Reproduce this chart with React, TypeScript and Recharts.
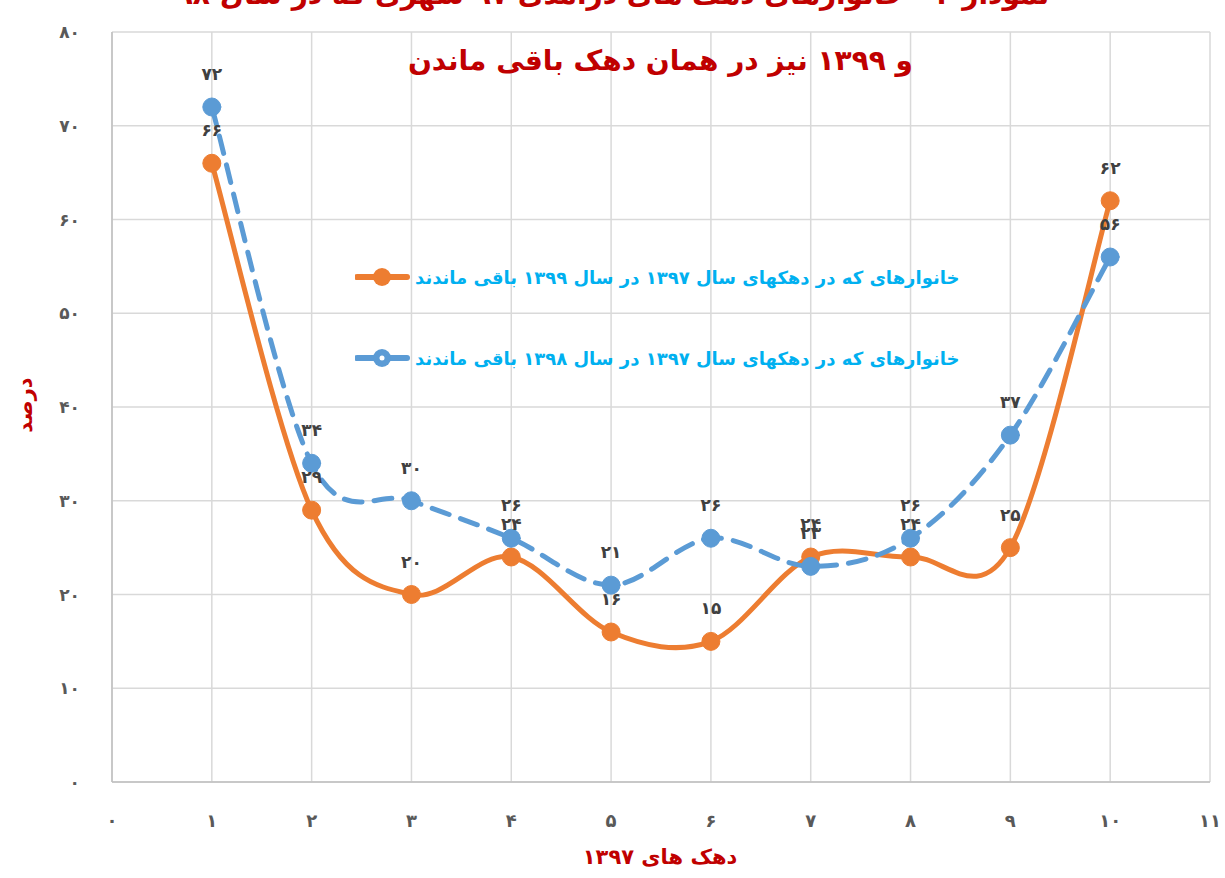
import React from "react";
import { LineChart, Line, XAxis, YAxis, CartesianGrid, LabelList } from "recharts";

const deciles = [1, 2, 3, 4, 5, 6, 7, 8, 9, 10];
const stayed1399 = [66, 29, 20, 24, 16, 15, 24, 24, 25, 62];
const stayed1398 = [72, 34, 30, 26, 21, 26, 23, 26, 37, 56];
const xTicks = [0, 1, 2, 3, 4, 5, 6, 7, 8, 9, 10, 11];
const yTicks = [0, 10, 20, 30, 40, 50, 60, 70, 80];

const name1399 = "خانوارهای که در دهکهای سال ۱۳۹۷ در سال ۱۳۹۹ باقی ماندند";
const name1398 = "خانوارهای که در دهکهای سال ۱۳۹۷ در سال ۱۳۹۸ باقی ماندند";
const titleLine1 = "نمودار ۲ - خانوارهای دهک های درآمدی ۹۷ شهری که در سال ۹۸";
const titleLine2 = "و ۱۳۹۹ نیز در همان دهک باقی ماندن";
const xTitle = "دهک های ۱۳۹۷";
const yTitle = "درصد";

const data = deciles.map((d, i) => ({ d, a: stayed1399[i], b: stayed1398[i] }));

const fa = (v: any) => String(v).replace(/[0-9]/g, (c) => "۰۱۲۳۴۵۶۷۸۹"[+c]);

const ORANGE = "#ED7D31";
const BLUE = "#5B9BD5";
const RED = "#C00000";
const FONT = "'DejaVu Sans', sans-serif";

function smooth(context: any) {
  let pts: number[][] = [];
  return {
    areaStart() {},
    areaEnd() {},
    lineStart() {
      pts = [];
    },
    point(x: number, y: number) {
      pts.push([+x, +y]);
    },
    lineEnd() {
      if (!pts.length) return;
      context.moveTo(pts[0][0], pts[0][1]);
      for (let i = 0; i < pts.length - 1; i++) {
        const p0 = pts[i - 1] || pts[i];
        const p1 = pts[i];
        const p2 = pts[i + 1];
        const p3 = pts[i + 2] || p2;
        context.bezierCurveTo(
          p1[0] + (p2[0] - p0[0]) / 6,
          p1[1] + (p2[1] - p0[1]) / 6,
          p2[0] - (p3[0] - p1[0]) / 6,
          p2[1] - (p3[1] - p1[1]) / 6,
          p2[0],
          p2[1]
        );
      }
    },
  };
}

const LegendRow = ({ color, hollow, label, top }: any) => (
  <div style={{ position: "absolute", left: 355, top: top - 16, height: 32, display: "flex", alignItems: "center" }}>
    <svg width={56} height={32}>
      <line x1={2} y1={16} x2={52} y2={16} stroke={color} strokeWidth={6} strokeLinecap="round" />
      <circle cx={27} cy={16} r={9} fill={color} />
      {hollow && <circle cx={27} cy={16} r={2.5} fill="#fff" />}
    </svg>
    <span dir="rtl" style={{ marginLeft: 4, color: "#00B0F0", fontWeight: "bold", fontSize: 18, fontFamily: FONT, whiteSpace: "nowrap" }}>
      {label}
    </span>
  </div>
);

export default function App() {
  return (
    <div style={{ position: "absolute", left: 0, top: 0, width: 1225, height: 878, background: "#fff", overflow: "hidden" }}>
      <LineChart width={1225} height={878} data={data} margin={{ top: 32, right: 15, bottom: 0, left: 0 }}>
        <CartesianGrid stroke="#D9D9D9" strokeWidth={1.5} />
        <XAxis
          dataKey="d"
          type="number"
          domain={[0, 11]}
          ticks={xTicks}
          interval={0}
          height={96}
          tickSize={0}
          tickMargin={32}
          tickFormatter={fa}
          tick={{ fill: "#595959", fontSize: 18, fontWeight: "bold", fontFamily: FONT }}
          stroke="#BFBFBF"
          strokeWidth={1.5}
        />
        <YAxis
          type="number"
          domain={[0, 80]}
          ticks={yTicks}
          interval={0}
          width={112}
          tickSize={0}
          tickMargin={32}
          tickFormatter={fa}
          tick={{ fill: "#595959", fontSize: 17, fontWeight: "bold", fontFamily: FONT }}
          stroke="#BFBFBF"
          strokeWidth={1.5}
        />
        <Line
          dataKey="a"
          name={name1399}
          type={smooth as any}
          stroke={ORANGE}
          strokeWidth={5}
          dot={{ r: 9, fill: ORANGE, stroke: ORANGE, strokeWidth: 1 }}
          activeDot={false}
          isAnimationActive={false}
        >
          <LabelList dataKey="a" position="top" offset={27} formatter={fa} fill="#404040" fontSize={17} fontWeight="bold" fontFamily={FONT} />
        </Line>
        <Line
          dataKey="b"
          name={name1398}
          type={smooth as any}
          stroke={BLUE}
          strokeWidth={5}
          strokeDasharray="18 12"
          strokeLinecap="round"
          dot={{ r: 9, fill: BLUE, stroke: BLUE, strokeWidth: 1, strokeDasharray: "" }}
          activeDot={false}
          isAnimationActive={false}
        >
          <LabelList dataKey="b" position="top" offset={27} formatter={fa} fill="#404040" fontSize={17} fontWeight="bold" fontFamily={FONT} />
        </Line>
      </LineChart>

      <div dir="rtl" style={{ position: "absolute", left: 0, width: 1225, top: -22, textAlign: "center", color: RED, fontWeight: "bold", fontSize: 28, fontFamily: FONT, whiteSpace: "nowrap" }}>
        {titleLine1}
      </div>
      <div dir="rtl" style={{ position: "absolute", left: 413, width: 500, top: 44, textAlign: "center", color: RED, fontWeight: "bold", fontSize: 28, fontFamily: FONT, whiteSpace: "nowrap" }}>
        {titleLine2}
      </div>
      <div dir="rtl" style={{ position: "absolute", left: 460, width: 400, top: 845, textAlign: "center", color: RED, fontWeight: "bold", fontSize: 21, fontFamily: FONT }}>
        {xTitle}
      </div>
      <div dir="rtl" style={{ position: "absolute", left: 25 - 40, top: 405 - 15, width: 80, height: 30, lineHeight: "30px", textAlign: "center", transform: "rotate(-90deg)", color: RED, fontWeight: "bold", fontSize: 21, fontFamily: FONT }}>
        {yTitle}
      </div>

      <LegendRow color={ORANGE} label={name1399} top={277} />
      <LegendRow color={BLUE} hollow label={name1398} top={358} />
    </div>
  );
}
